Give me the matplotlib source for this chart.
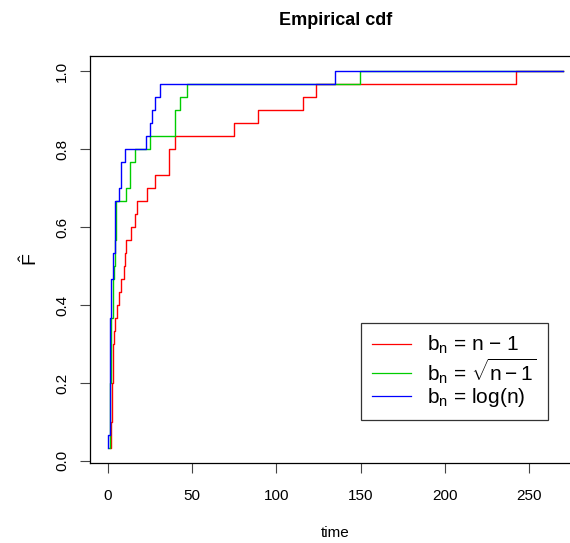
import numpy as np
import matplotlib
matplotlib.use("Agg")
import matplotlib.pyplot as plt

plt.rcParams['font.family'] = ['Liberation Sans', 'DejaVu Sans']
plt.rcParams['mathtext.fontset'] = 'custom'
plt.rcParams['mathtext.rm'] = 'Liberation Sans'
plt.rcParams['mathtext.it'] = 'Liberation Sans'

# sorted times for each choice of b_n (30 obs each)
red_t = [1.35, 1.7, 2.0, 2.2, 2.4, 2.6, 2.8, 3.0, 3.1, 3.3, 4.3, 5.5, 6.7, 7.9, 9.3,
         9.9, 10.9, 13.8, 15.8, 17.2, 23.1, 28.1, 36.2, 36.2, 39.6, 74.9, 88.9,
         115.9, 123.4, 242.1]
green_t = [0.8, 0.9, 1.0, 1.1, 1.2, 1.35, 1.5, 1.6, 1.7, 1.8, 1.9, 2.85, 2.9, 2.95,
           3.85, 3.9, 3.95, 4.85, 4.9, 4.95, 10.9, 13.1, 13.1, 16.1, 25.1, 39.8,
           39.8, 43.0, 46.9, 149.8]
blue_t = [0.1, 0.2, 0.9, 0.92, 0.94, 0.96, 0.98, 1.0, 1.0, 1.0, 1.0, 1.9, 1.9, 1.9,
          2.9, 2.95, 4.3, 4.3, 4.35, 4.4, 6.5, 7.8, 7.9, 9.9, 22.8, 24.7, 26.1,
          27.7, 30.7, 134.9]
t_end = 270

labels = [r'b$_\mathrm{n}$ = n $-$ 1', r'b$_\mathrm{n}$ = $\sqrt{\mathrm{n - 1}}$',
          r'b$_\mathrm{n}$ = log(n)']
colors = ['#FF0000', '#00CD00', '#0000FF']

fig = plt.figure(figsize=(5.7, 5.43), dpi=100)
ax = fig.add_axes([90/570, 80/543, 490.7/570, 407/543])

for t, c, lab in zip([red_t, green_t, blue_t], colors, labels):
    n = len(t)
    x = np.array(t + [t_end])
    y = np.append(np.arange(1, n + 1) / n, 1.0)
    ax.plot(x, y, drawstyle='steps-post', color=c, lw=1.0, label=lab)

ax.set_xlim(-10.7, 280.8)
ax.set_ylim(-0.00533, 1.03867)
ax.set_xticks([0, 50, 100, 150, 200, 250])
ax.set_yticks([0.0, 0.2, 0.4, 0.6, 0.8, 1.0])
ax.set_yticklabels(['0.0', '0.2', '0.4', '0.6', '0.8', '1.0'], rotation=90, va='center')
ax.tick_params(direction='out', length=7, width=0.8, color='#444444', labelsize=11)
ax.tick_params(axis='x', pad=12)
ax.tick_params(axis='y', pad=8)
for s in ax.spines.values():
    s.set_linewidth(0.9)
    s.set_color('black')

ax.set_title('Empirical cdf', fontsize=13, fontweight='bold', pad=22)
ax.set_xlabel('time', fontsize=11, labelpad=16)
ax.set_ylabel(r'$\hat{\mathrm{F}}$', fontsize=14, labelpad=10)

leg = ax.legend(loc='upper left', bbox_to_anchor=(361/570, 1 - 322.7/543),
                bbox_transform=fig.transFigure, fontsize=15, frameon=True,
                fancybox=False, edgecolor='black', handlelength=1.85,
                handletextpad=0.75, borderpad=0.55, labelspacing=0.0,
                borderaxespad=0)
leg.get_frame().set_linewidth(0.9)
for h in leg.get_lines():
    h.set_linewidth(0.9)

fig.savefig('out.png', dpi=100)
